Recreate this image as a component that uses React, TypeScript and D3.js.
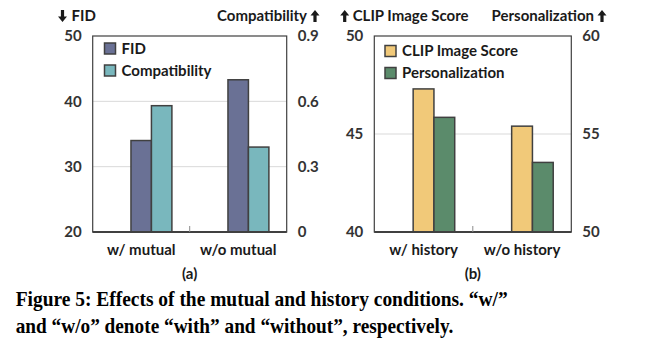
import React from "react";
import * as d3 from "d3";

const catsA = ["w/ mutual", "w/o mutual"];
const fidVals = [34.0, 43.3];
const compatVals = [0.58, 0.39];
const leftTicksA = [20, 30, 40, 50];
const rightTicksA = [0, 0.3, 0.6, 0.9];

const catsB = ["w/ history", "w/o history"];
const clipVals = [47.3, 45.4];
const persVals = [55.85, 53.55];
const leftTicksB = [40, 45, 50];
const rightTicksB = [50, 55, 60];

const FONT = "Lato, 'Open Sans', sans-serif";
const STROKE = "#404040";
const FS = 15;

type PanelProps = {
  x0: number; x1: number;
  cats: string[];
  s1: { name: string; vals: number[]; color: string; domain: [number, number]; ticks: number[]; fmt: (v: number) => string };
  s2: { name: string; vals: number[]; color: string; domain: [number, number]; ticks: number[]; fmt: (v: number) => string };
  leftTitle: string; rightTitle: string; leftArrowDown: boolean;
  leftTitleX: number; rightTitleX: number;
  legendX: number; legendY: number;
  sub: string;
};

const Arrow = ({ x, y, down }: { x: number; y: number; down: boolean }) => {
  const h = 12, hw = 4.5, sw = 1.6, hh = 5.5;
  const d = down
    ? `M${x - sw},${y} L${x + sw},${y} L${x + sw},${y + h - hh} L${x + hw},${y + h - hh} L${x},${y + h} L${x - hw},${y + h - hh} L${x - sw},${y + h - hh} Z`
    : `M${x - sw},${y + h} L${x + sw},${y + h} L${x + sw},${y + hh} L${x + hw},${y + hh} L${x},${y} L${x - hw},${y + hh} L${x - sw},${y + hh} Z`;
  return <path d={d} fill="#1a1a1a" />;
};

const Panel = (p: PanelProps) => {
  const top = 36, bottom = 232;
  const yL = d3.scaleLinear().domain(p.s1.domain).range([bottom, top]);
  const yR = d3.scaleLinear().domain(p.s2.domain).range([bottom, top]);
  const x = d3.scaleBand<string>().domain(p.cats).range([p.x0, p.x1]).padding(0);
  const bw = x.bandwidth();
  const inner = d3.scaleBand<string>().domain(["", p.s1.name, p.s2.name]).range([0, bw]).paddingInner(0).paddingOuter(0.87);
  const series = [
    { s: p.s1, y: yL },
    { s: p.s2, y: yR },
  ];
  return (
    <g>
      {p.s1.ticks.slice(1, -1).map((t) => (
        <line key={t} x1={p.x0} x2={p.x1} y1={yL(t)} y2={yL(t)} stroke="#d9d9d9" strokeWidth={1} />
      ))}
      <rect x={p.x0} y={top} width={p.x1 - p.x0} height={bottom - top} fill="none" stroke={STROKE} strokeWidth={1.2} />
      {series.map(({ s, y }) =>
        p.cats.map((c, i) => (
          <rect key={s.name + c} x={(x(c) as number) + (inner(s.name) as number)} y={y(s.vals[i])}
            width={inner.bandwidth()} height={bottom - y(s.vals[i])}
            fill={s.color} stroke={STROKE} strokeWidth={1.5} />
        ))
      )}
      <line x1={p.x0} x2={p.x1} y1={bottom} y2={bottom} stroke={STROKE} strokeWidth={2} />
      {p.cats.slice(1).map((c) => (
        <line key={c} x1={x(c) as number} x2={x(c) as number} y1={bottom} y2={bottom - 6} stroke="#8c8c8c" strokeWidth={1} />
      ))}
      {p.s1.ticks.map((t) => (
        <text key={"l" + t} x={p.x0 - 11} y={yL(t)} dy="0.36em" textAnchor="end" fontSize={FS} fontWeight="bold" fill="#333" fontFamily={FONT}>{p.s1.fmt(t)}</text>
      ))}
      {p.s2.ticks.map((t) => (
        <text key={"r" + t} x={p.x1 + 11} y={yR(t)} dy="0.36em" textAnchor="start" fontSize={FS} fontWeight="bold" fill="#333" fontFamily={FONT}>{p.s2.fmt(t)}</text>
      ))}
      {p.cats.map((c) => (
        <text key={"c" + c} x={(x(c) as number) + bw / 2} y={255} textAnchor="middle" fontSize={FS} fontWeight="bold" fill="#1a1a1a" fontFamily={FONT}>{c}</text>
      ))}
      <text x={(p.x0 + p.x1) / 2} y={279} textAnchor="middle" fontSize={FS} fontWeight="bold" fill="#1a1a1a" fontFamily={FONT}>{p.sub}</text>
      <Arrow x={p.leftTitleX - (p.leftArrowDown ? 9 : 8)} y={10} down={p.leftArrowDown} />
      <text x={p.leftTitleX} y={21} fontSize={FS} fontWeight="bold" fill="#1a1a1a" fontFamily={FONT}>{p.leftTitle}</text>
      <text x={p.rightTitleX} y={21} textAnchor="end" fontSize={FS} fontWeight="bold" fill="#1a1a1a" fontFamily={FONT}>{p.rightTitle}</text>
      <Arrow x={p.rightTitleX + 8} y={10} down={false} />
      {[p.s1, p.s2].map((s, i) => (
        <g key={"lg" + s.name} transform={`translate(${p.legendX},${p.legendY + i * 22})`}>
          <rect x={0} y={0} width={11} height={11} fill={s.color} stroke={STROKE} strokeWidth={1.5} />
          <text x={17} y={5.5} dy="0.36em" fontSize={FS} fontWeight="bold" fill="#1a1a1a" fontFamily={FONT}>{s.name}</text>
        </g>
      ))}
    </g>
  );
};

export default function App() {
  return (
    <svg width={661} height={357} style={{ position: "absolute", left: 0, top: 0, background: "#fff" }}>
      <rect width={661} height={357} fill="#fff" />
      <Panel
        x0={92.7} x1={286.7} cats={catsA}
        s1={{ name: "FID", vals: fidVals, color: "#6a7195", domain: [20, 50], ticks: leftTicksA, fmt: (v) => String(v) }}
        s2={{ name: "Compatibility", vals: compatVals, color: "#79b7bd", domain: [0, 0.9], ticks: rightTicksA, fmt: (v) => (v === 0 ? "0" : String(v)) }}
        leftTitle="FID" rightTitle="Compatibility" leftArrowDown={true}
        leftTitleX={71.5} rightTitleX={307}
        legendX={104.5} legendY={43}
        sub="(a)"
      />
      <Panel
        x0={374.3} x1={571.3} cats={catsB}
        s1={{ name: "CLIP Image Score", vals: clipVals, color: "#f1c979", domain: [40, 50], ticks: leftTicksB, fmt: (v) => String(v) }}
        s2={{ name: "Personalization", vals: persVals, color: "#5b8b6b", domain: [50, 60], ticks: rightTicksB, fmt: (v) => String(v) }}
        leftTitle="CLIP Image Score" rightTitle="Personalization" leftArrowDown={false}
        leftTitleX={352.7} rightTitleX={594}
        legendX={385} legendY={45.5}
        sub="(b)"
      />
      <text x={15.7} y={306} fontSize={22} fontWeight="bold" fontFamily="'Liberation Serif', serif" fill="#000" textLength={492} lengthAdjust="spacingAndGlyphs">Figure 5: Effects of the mutual and history conditions. “w/”</text>
      <text x={15.7} y={333} fontSize={22} fontWeight="bold" fontFamily="'Liberation Serif', serif" fill="#000" textLength={437.6} lengthAdjust="spacingAndGlyphs">and “w/o” denote “with” and “without”, respectively.</text>
    </svg>
  );
}
